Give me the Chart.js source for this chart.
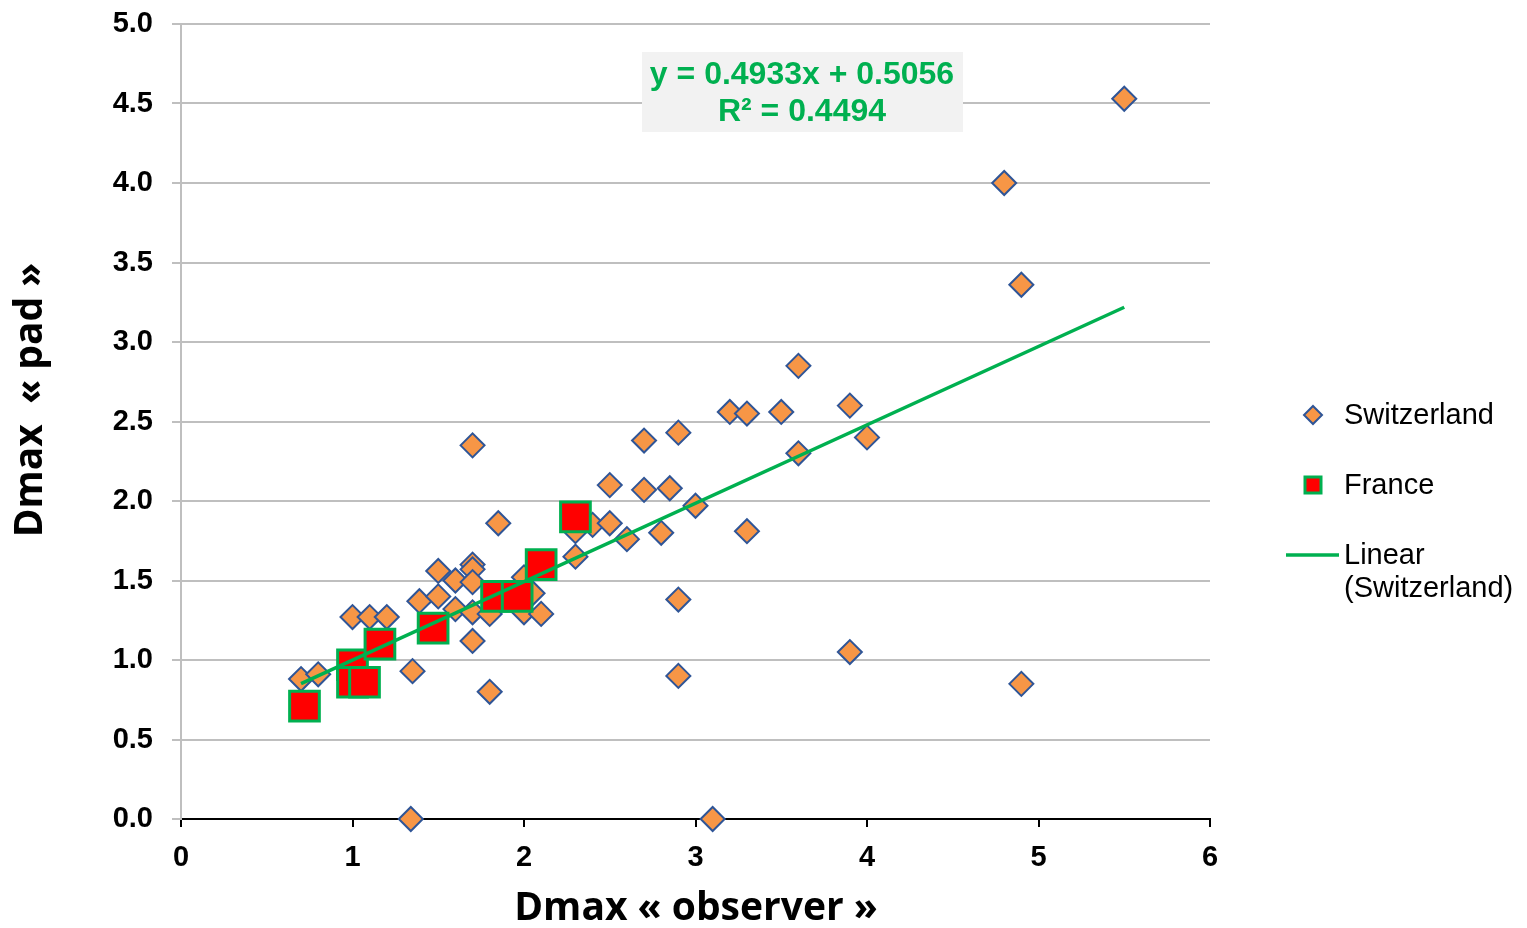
<!DOCTYPE html>
<html>
<head>
<meta charset="utf-8">
<script src="https://cdn.jsdelivr.net/npm/chart.js@4.4.1/dist/chart.umd.min.js"></script>
<style>
html,body{margin:0;padding:0;background:#fff;}
canvas{display:block;}
</style>
</head>
<body>
<canvas id="c" width="1527" height="928"></canvas>
<script>
// ---- data ----
const swissX = [0.7,0.8,1.0,1.1,1.2,1.35,1.34,1.39,1.5,1.5,1.6,1.6,1.7,1.7,1.7,1.7,1.7,1.7,1.8,1.8,1.85,2.0,2.0,2.05,2.1,2.3,2.3,2.4,2.5,2.5,2.6,2.7,2.7,2.8,2.85,2.9,2.9,2.9,3.0,3.1,3.2,3.3,3.3,3.5,3.6,3.6,3.9,3.9,4.0,4.8,4.9,4.9,5.5];
const swissY = [0.88,0.91,1.27,1.27,1.27,0.93,0.0,1.37,1.56,1.40,1.50,1.32,1.60,1.57,1.49,1.30,1.12,2.35,1.29,0.80,1.86,1.30,1.52,1.42,1.29,1.65,1.81,1.85,1.86,2.10,1.76,2.38,2.07,1.80,2.08,2.43,1.38,0.90,1.97,0.0,2.56,2.55,1.81,2.56,2.85,2.30,2.60,1.05,2.40,4.0,3.36,0.85,4.53];
const franceX = [0.72,1.0,1.0,1.07,1.16,1.47,1.84,1.96,2.1,2.3];
const franceY = [0.71,0.97,0.86,0.86,1.10,1.20,1.40,1.40,1.60,1.90];
const trendSlope = 0.4933, trendIntercept = 0.5056, trendR2 = 0.4494;
const trendX = [0.7, 5.5];
const xTicks = [0,1,2,3,4,5,6];
const yTicks = [0,0.5,1,1.5,2,2.5,3,3.5,4,4.5,5];
const seriesNames = ['Switzerland','France','Linear (Switzerland)'];

const swissPts = swissX.map((x,i)=>({x, y: swissY[i]}));
const francePts = franceX.map((x,i)=>({x, y: franceY[i]}));
const trendPts = trendX.map(x=>({x, y: trendSlope*x + trendIntercept}));

const ORANGE='#f79646', BLUE='#2f5597', RED='#ff0000', GREEN='#00b050';
const tickFont = {family:'"Liberation Sans", Arial, sans-serif', size:29, weight:'bold'};

const extras = {
  id:'extras',
  afterDraw(chart){
    const ctx = chart.ctx;
    ctx.save();
    // equation box
    ctx.fillStyle = '#f2f2f2';
    ctx.fillRect(642, 52, 321, 80);
    ctx.fillStyle = GREEN;
    ctx.font = 'bold 32px "Liberation Sans", Arial, sans-serif';
    ctx.textAlign = 'center';
    ctx.textBaseline = 'middle';
    ctx.fillText('y = ' + trendSlope.toFixed(4) + 'x + ' + trendIntercept.toFixed(4), 802, 75);
    ctx.fillText('R² = ' + trendR2.toFixed(4), 802, 112);
    // axis titles
    ctx.fillStyle = '#000';
    ctx.font = 'bold 39px "Open Sans", Lato, sans-serif';
    ctx.fillText('Dmax « observer »', 696, 909);
    ctx.save();
    ctx.translate(31, 400);
    ctx.rotate(-Math.PI/2);
    ctx.fillText('Dmax  « pad »', 0, 0);
    ctx.restore();
    // legend
    ctx.textAlign = 'left';
    ctx.font = '29px "Liberation Sans", Arial, sans-serif';
    // diamond
    ctx.beginPath();
    ctx.moveTo(1313, 406); ctx.lineTo(1322, 415); ctx.lineTo(1313, 424); ctx.lineTo(1304, 415); ctx.closePath();
    ctx.fillStyle = ORANGE; ctx.fill();
    ctx.lineWidth = 2; ctx.strokeStyle = BLUE; ctx.stroke();
    ctx.fillStyle = '#000';
    ctx.fillText(seriesNames[0], 1344, 416);
    // square
    ctx.fillStyle = RED;
    ctx.fillRect(1305, 477, 16, 16);
    ctx.lineWidth = 3; ctx.strokeStyle = GREEN;
    ctx.strokeRect(1305, 477, 16, 16);
    ctx.fillStyle = '#000';
    ctx.fillText(seriesNames[1], 1344, 486);
    // line
    ctx.beginPath();
    ctx.moveTo(1286, 555); ctx.lineTo(1339, 555);
    ctx.lineWidth = 3.5; ctx.strokeStyle = GREEN; ctx.stroke();
    ctx.fillStyle = '#000';
    ctx.fillText('Linear', 1344, 556);
    ctx.fillText('(Switzerland)', 1344, 589);
    ctx.restore();
  }
};

new Chart(document.getElementById('c'), {
  type: 'scatter',
  data: {
    datasets: [
      {label: seriesNames[0], data: swissPts, pointStyle:'rectRot', pointRadius:12, pointHoverRadius:12,
       backgroundColor: ORANGE, borderColor: BLUE, borderWidth: 2, order: 3, clip: false},
      {label: seriesNames[1], data: francePts, pointStyle:'rect', pointRadius:21, pointHoverRadius:21,
       backgroundColor: RED, borderColor: GREEN, borderWidth: 3, order: 2, clip: false},
      {label: seriesNames[2], type:'line', data: trendPts, showLine: true, pointRadius: 0,
       borderColor: GREEN, borderWidth: 3.5, fill:false, order: 1, clip:false}
    ]
  },
  options: {
    responsive: false,
    animation: false,
    devicePixelRatio: 1,
    layout: {padding: {left:0, top:21, right:317, bottom:0}},
    plugins: {legend:{display:false}, tooltip:{enabled:false}},
    scales: {
      x: {
        type:'linear', min:0, max:6,
        afterBuildTicks: s => { s.ticks = xTicks.map(v=>({value:v})); },
        afterFit: s => { s.height = 109; s.paddingLeft = 5; s.paddingRight = 5; },
        ticks: {font: tickFont, color:'#000', padding: 14},
        grid: {drawOnChartArea:false, drawTicks:true, tickLength:8, color:'#000', lineWidth:2},
        border: {display:true, color:'#000', width:2}
      },
      y: {
        type:'linear', min:0, max:5,
        afterBuildTicks: s => { s.ticks = yTicks.map(v=>({value:v})); },
        afterFit: s => { s.width = 181; s.paddingTop = 5; s.paddingBottom = 5; },
        ticks: {font: tickFont, color:'#000', padding: 19, callback: v => Number(v).toFixed(1)},
        grid: {color: c => (c.tick && c.tick.value === 0) ? 'rgba(0,0,0,0)' : '#bfbfbf',
               tickColor: '#bfbfbf', lineWidth:2, tickLength:9, drawTicks:true},
        border: {display:true, color:'#bfbfbf', width:2}
      }
    }
  },
  plugins: [extras]
});
</script>
</body>
</html>
